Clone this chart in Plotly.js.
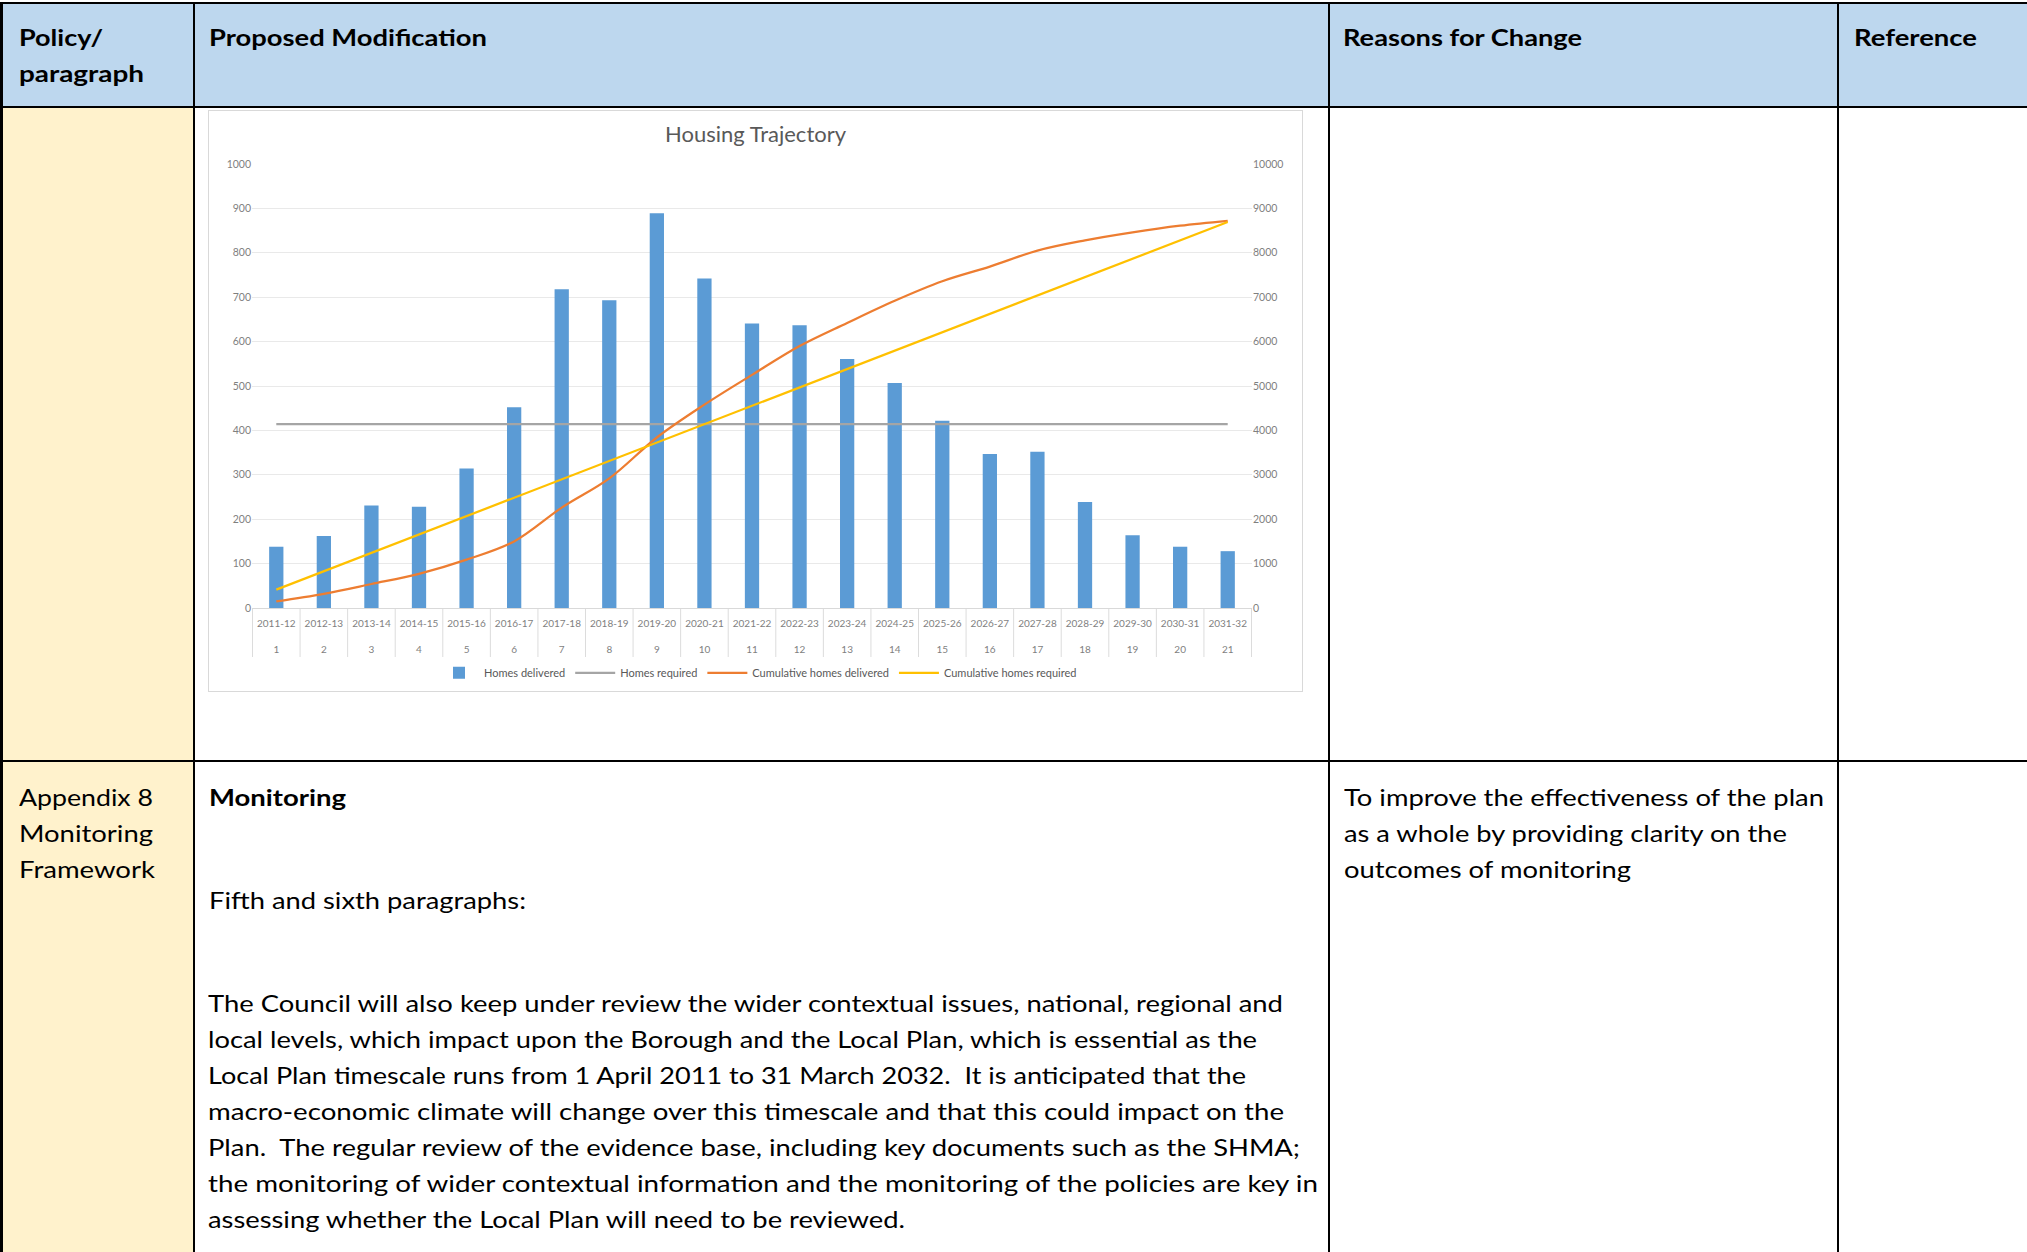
<!DOCTYPE html>
<html><head><meta charset="utf-8">
<script src="https://cdn.plot.ly/plotly-3.0.1.min.js"></script>
<style>
html,body{margin:0;padding:0;background:#fff;}
body{width:2027px;height:1252px;position:relative;overflow:hidden;font-family:Lato,'Open Sans',sans-serif;color:#000;}
.bg{position:absolute;}
.ln{position:absolute;background:#000;}
.t{position:absolute;white-space:nowrap;font-size:22.5px;line-height:36px;height:36px;transform-origin:0 50%;}
.b{font-weight:700;}
#box{position:absolute;left:208px;top:110px;width:1095px;height:582px;box-sizing:border-box;border:1px solid #d9d9d9;background:#fff;}
#chart{position:absolute;left:0;top:0;width:1093px;height:580px;}
</style></head><body>
<!-- backgrounds -->
<div class="bg" style="left:0;top:3px;width:2027px;height:104px;background:#bdd7ee"></div>
<div class="bg" style="left:0;top:107px;width:194px;height:1145px;background:#fff2cc"></div>
<!-- borders -->
<div class="ln" style="left:0;top:2px;width:2027px;height:2px"></div>
<div class="ln" style="left:0;top:106px;width:2027px;height:2px"></div>
<div class="ln" style="left:0;top:760px;width:2027px;height:2px"></div>
<div class="ln" style="left:0;top:2px;width:3px;height:1250px"></div>
<div class="ln" style="left:193px;top:2px;width:2px;height:1250px"></div>
<div class="ln" style="left:1328px;top:2px;width:2px;height:1250px"></div>
<div class="ln" style="left:1837px;top:2px;width:2px;height:1250px"></div>

<!-- header texts -->
<div class="t b" data-w="84" style="left:19px;top:20px">Policy/</div>
<div class="t b" data-w="125" style="left:19px;top:56px">paragraph</div>
<div class="t b" data-w="278" style="left:209px;top:20px">Proposed Modification</div>
<div class="t b" data-w="239" style="left:1343px;top:20px">Reasons for Change</div>
<div class="t b" data-w="123" style="left:1854px;top:20px">Reference</div>

<!-- row 3 -->
<div class="t" data-w="134" style="left:19px;top:780px">Appendix 8</div>
<div class="t" data-w="134" style="left:19px;top:816px">Monitoring</div>
<div class="t" data-w="136" style="left:19px;top:852px">Framework</div>
<div class="t b" data-w="137" style="left:209px;top:780px">Monitoring</div>
<div class="t" data-w="317" style="left:209px;top:883px">Fifth and sixth paragraphs:</div>
<div class="t" data-w="1075" style="left:208px;top:986px">The Council will also keep under review the wider contextual issues, national, regional and</div>
<div class="t" data-w="1049" style="left:208px;top:1022px">local levels, which impact upon the Borough and the Local Plan, which is essential as the</div>
<div class="t" data-w="1038" style="left:208px;top:1058px">Local Plan timescale runs from 1 April 2011 to 31 March 2032.&nbsp; It is anticipated that the</div>
<div class="t" data-w="1076" style="left:208px;top:1094px">macro-economic climate will change over this timescale and that this could impact on the</div>
<div class="t" data-w="1092" style="left:208px;top:1130px">Plan.&nbsp; The regular review of the evidence base, including key documents such as the SHMA;</div>
<div class="t" data-w="1110" style="left:208px;top:1166px">the monitoring of wider contextual information and the monitoring of the policies are key in</div>
<div class="t" data-w="697" style="left:208px;top:1202px">assessing whether the Local Plan will need to be reviewed.</div>
<div class="t" data-w="480" style="left:1344px;top:780px">To improve the effectiveness of the plan</div>
<div class="t" data-w="443" style="left:1344px;top:816px">as a whole by providing clarity on the</div>
<div class="t" data-w="287" style="left:1344px;top:852px">outcomes of monitoring</div>

<div id="box"><div id="chart"></div></div>

<script>
const years = ['2011-12','2012-13','2013-14','2014-15','2015-16','2016-17','2017-18','2018-19','2019-20','2020-21','2021-22','2022-23','2023-24','2024-25','2025-26','2026-27','2027-28','2028-29','2029-30','2030-31','2031-32'];
const periods = ['1','2','3','4','5','6','7','8','9','10','11','12','13','14','15','16','17','18','19','20','21'];
const homesDelivered = [138,162,231,228,314,452,718,693,889,742,641,637,561,507,422,347,352,239,164,138,128];
const homesRequired = [414,414,414,414,414,414,414,414,414,414,414,414,414,414,414,414,414,414,414,414,414];
const cumDelivered = [150,320,540,770,1090,1500,2260,2920,3840,4580,5250,5900,6420,6920,7360,7690,8050,8280,8460,8610,8720];
const cumRequired = [414,828,1242,1656,2070,2484,2898,3312,3726,4140,4554,4968,5382,5796,6210,6624,7038,7452,7866,8280,8694];

// two-row category labels: year on top, period number below
const tickLabels = years.map((y, i) => y + '<br><br>' + periods[i]);

// separators between category slots below the axis (axis decoration)
const separators = [];
for (let i = 0; i <= years.length; i++) {
  separators.push({type:'line', xref:'x', yref:'paper', x0:i - 0.5, x1:i - 0.5, y0:0, y1:-49/444,
                   line:{color:'#dcdcdc', width:1}, layer:'below'});
}

const traces = [
  {type:'bar', name:'Homes delivered', x:years, y:homesDelivered, marker:{color:'#5b9bd5'}, hoverinfo:'skip'},
  {type:'scatter', mode:'lines', name:'Homes required', x:years, y:homesRequired, line:{color:'#a5a5a5', width:2.25}, hoverinfo:'skip'},
  {type:'scatter', mode:'lines', name:'Cumulative homes delivered', x:years, y:cumDelivered, yaxis:'y2', line:{color:'#ed7d31', width:2.25, shape:'spline', smoothing:1}, hoverinfo:'skip'},
  {type:'scatter', mode:'lines', name:'Cumulative homes required', x:years, y:cumRequired, yaxis:'y2', line:{color:'#ffc000', width:2.25}, hoverinfo:'skip'}
];

const layout = {
  width:1093, height:580,
  margin:{l:43, r:50, t:53, b:83, autoexpand:false},
  paper_bgcolor:'#ffffff', plot_bgcolor:'#ffffff',
  font:{family:'Lato, sans-serif', size:11, color:'#7f7f7f'},
  title:{text:'Housing Trajectory', font:{size:22, color:'#595959', family:'Lato, sans-serif'}, x:0.5, xref:'container', y:0.96, yref:'container', yanchor:'middle', automargin:false},
  bargap:0.7,
  showlegend:true,
  legend:{orientation:'h', x:0.506, xanchor:'center', y:-0.146, yanchor:'middle', font:{size:11, color:'#595959'}, itemwidth:40},
  shapes:separators,
  xaxis:{type:'category', automargin:false, showline:true, linecolor:'#d9d9d9', linewidth:1,
         tickmode:'array', tickvals:years, ticktext:tickLabels, tickangle:0,
         ticks:'', ticklabelstandoff:6, showgrid:false, tickfont:{size:10, color:'#7f7f7f'}},
  yaxis:{range:[0,1000], dtick:100, automargin:false, gridcolor:'#e9e9e9', zeroline:false, showline:false, ticks:'', tickfont:{size:10.5, color:'#7f7f7f'}},
  yaxis2:{range:[0,10000], dtick:1000, tickformat:'d', automargin:false, overlaying:'y', side:'right', showgrid:false, zeroline:false, showline:false, ticks:'', tickfont:{size:10.5, color:'#7f7f7f'}}
};

Plotly.newPlot('chart', traces, layout, {displayModeBar:false, staticPlot:true});

function fitText(){
  document.querySelectorAll('.t[data-w]').forEach(el=>{
    el.style.transform='none';
    const w = el.getBoundingClientRect().width;
    const target = parseFloat(el.getAttribute('data-w'));
    if (w>0) el.style.transform = 'scaleX(' + (target/w).toFixed(4) + ')';
  });
}
if (document.fonts && document.fonts.ready) { document.fonts.ready.then(fitText); } else { fitText(); }
fitText();
</script>
</body></html>
